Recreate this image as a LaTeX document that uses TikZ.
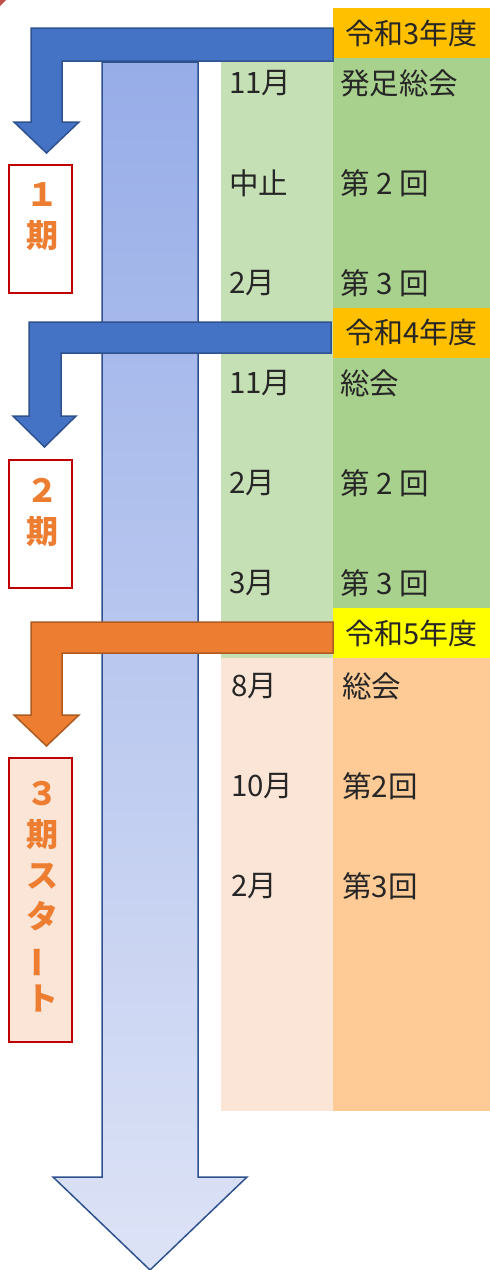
\documentclass[tikz,border=0pt]{standalone}
\usepackage{fontspec}
\setmainfont{Noto Sans CJK JP}
\usepackage{xcolor}
\usepackage{tikz}
\usetikzlibrary{positioning}
\definecolor{hdrorange}{HTML}{FFC000}
\definecolor{hdryellow}{HTML}{FFFF00}
\definecolor{lgreen}{HTML}{C5E0B4}
\definecolor{dgreen}{HTML}{A9D18E}
\definecolor{lorange}{HTML}{FBE5D6}
\definecolor{dorange}{HTML}{FECB96}
\definecolor{arrowblue}{HTML}{4472C4}
\definecolor{arrowline}{HTML}{2F528F}
\definecolor{arroworange}{HTML}{ED7D31}
\definecolor{orangeline}{HTML}{AE5A21}
\definecolor{boxred}{HTML}{C00000}
\definecolor{cornerred}{HTML}{C0504D}
\definecolor{shafttop}{HTML}{97ADE8}
\definecolor{shaftbottom}{HTML}{DDE3F6}
\tikzstyle{hdr} = [rectangle, minimum width=157pt, minimum height=50pt, inner sep=0pt, text=black!85, font=\fontsize{29}{31}\selectfont]
\tikzstyle{cell} = [anchor=west, inner sep=0pt, text=black!85, font=\fontsize{29.5}{31}\selectfont]
\tikzstyle{bent} = [draw=arrowline, fill=arrowblue, line width=1.5pt, line join=miter]
\tikzstyle{bentorange} = [draw=orangeline, fill=arroworange, line width=1.5pt, line join=miter]
\tikzstyle{timearrow} = [draw=arrowline, top color=shafttop, bottom color=shaftbottom, line width=1.5pt]
\tikzstyle{kibox} = [rectangle, draw=boxred, line width=1.5pt, minimum width=63pt, inner sep=0pt]
\tikzstyle{kitext} = [align=center, inner sep=0pt, text=arroworange, font=\bfseries\fontsize{32}{41}\selectfont]

\begin{document}
\begin{tikzpicture}[x=1pt, y=-1pt]
    \useasboundingbox (0,0) rectangle (490,1270);
    \fill[cornerred] (0,0) -- (6,0) -- (0,6) -- cycle;

    % table background
    \fill[lgreen] (221,61) rectangle (333,658);
    \fill[dgreen] (333,58) rectangle (490,608);
    \fill[lorange] (221,658) rectangle (333,1111);
    \fill[dorange] (333,658) rectangle (490,1111);

    % time axis
    \draw[timearrow] (102,62) -- (198,62) -- (198,1177) -- (247,1177) -- (150,1270) -- (53,1177) -- (102,1177) -- cycle;

    % year headers
    \node (r3) [hdr, fill=hdrorange] at (411.5,33) {令和3年度};
    \node (r4) [hdr, fill=hdrorange] at (411.5,332.5) {令和4年度};
    \node (r5) [hdr, fill=hdryellow] at (411.5,633) {令和5年度};

    % bent arrows
    \draw[bent] (333,28) -- (333,61) -- (62,61) -- (62,122) -- (79,122) -- (46.5,153) -- (14,122) -- (31,122) -- (31,28) -- cycle;
    \draw[bent] (331,322) -- (331,353) -- (61,353) -- (61,416) -- (76,416) -- (44.5,447) -- (13,416) -- (29,416) -- (29,322) -- cycle;
    \draw[bentorange] (333,622) -- (333,653) -- (62,653) -- (62,715) -- (79,715) -- (46.5,746) -- (14,715) -- (31,715) -- (31,622) -- cycle;

    % terms
    \node (box1) [kibox, minimum height=128pt] at (40.5,229) {};
    \node (ki1) [kitext] at (43,217) {１\\期};
    \node (box2) [kibox, minimum height=128pt] at (40.5,524) {};
    \node (ki2) [kitext] at (43,512.5) {２\\期};
    \node (box3) [kibox, fill=lorange, minimum height=284pt] at (40.5,900) {};
    \node (ki3) [kitext] at (42,897) {３\\期\\ス\\タ\\\rotatebox[origin=c]{90}{ー}\\ト};

    % R3
    \node (m31) [cell] at (229,83) {11月};
    \node (e31) [cell] at (340,83) {発足総会};
    \node (m32) [cell] at (229,183) {中止};
    \node (e32) [cell] at (340,183) {第 2 回};
    \node (m33) [cell] at (229,283) {2月};
    \node (e33) [cell] at (340,283) {第 3 回};
    % R4
    \node (m41) [cell] at (229,383) {11月};
    \node (e41) [cell] at (340,383) {総会};
    \node (m42) [cell] at (229,483) {2月};
    \node (e42) [cell] at (340,483) {第 2 回};
    \node (m43) [cell] at (229,583) {3月};
    \node (e43) [cell] at (340,583) {第 3 回};
    % R5
    \node (m51) [cell] at (231,686) {8月};
    \node (e51) [cell] at (342,686) {総会};
    \node (m52) [cell] at (231,786) {10月};
    \node (e52) [cell] at (342,786) {第2回};
    \node (m53) [cell] at (231,886) {2月};
    \node (e53) [cell] at (342,886) {第3回};
\end{tikzpicture}
\end{document}
